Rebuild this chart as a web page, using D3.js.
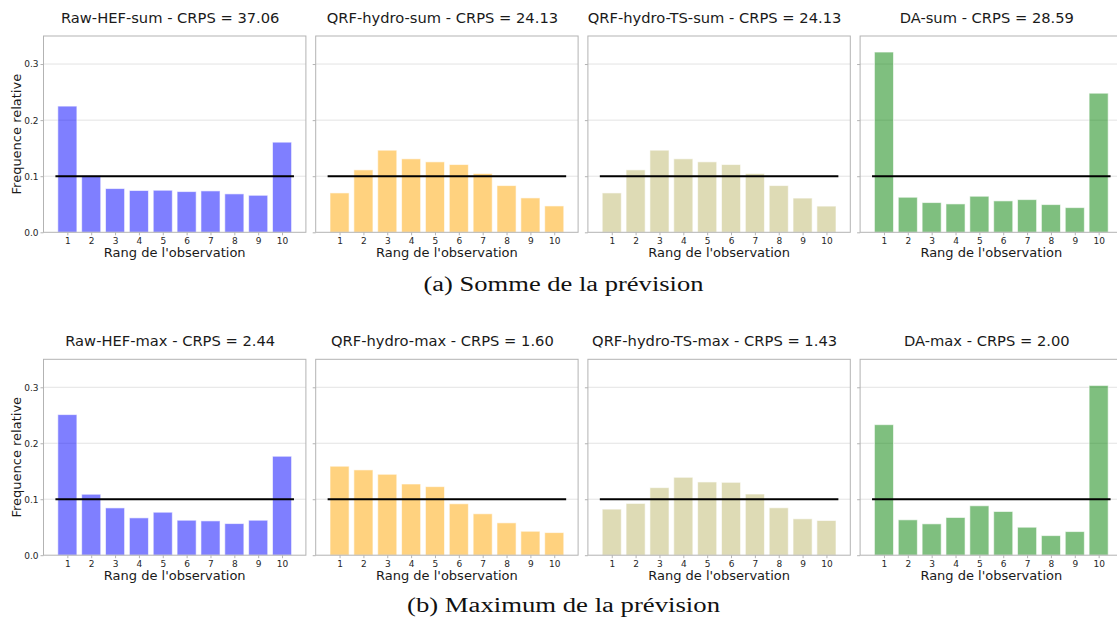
<!DOCTYPE html>
<html>
<head>
<meta charset="utf-8">
<script src="https://cdn.jsdelivr.net/npm/d3@7"></script>
<style>
  html, body { margin: 0; padding: 0; background: #fff; }
  svg { display: block; }
</style>
</head>
<body>
<svg id="chart" width="1117" height="621"></svg>
<script>
// ---------------- DATA ----------------
const ranks = [1, 2, 3, 4, 5, 6, 7, 8, 9, 10];
const yTickValues = [0.0, 0.1, 0.2, 0.3];
const uniformLevel = 0.1;

const titlesSum = [
  "Raw-HEF-sum - CRPS = 37.06",
  "QRF-hydro-sum - CRPS = 24.13",
  "QRF-hydro-TS-sum - CRPS = 24.13",
  "DA-sum - CRPS = 28.59"
];
const titlesMax = [
  "Raw-HEF-max - CRPS = 2.44",
  "QRF-hydro-max - CRPS = 1.60",
  "QRF-hydro-TS-max - CRPS = 1.43",
  "DA-max - CRPS = 2.00"
];

const rawHefSum     = [0.225, 0.101, 0.078, 0.0745, 0.075, 0.0726, 0.0738, 0.0685, 0.066, 0.1607];
const qrfHydroSum   = [0.0702, 0.1113, 0.1464, 0.131, 0.1256, 0.1208, 0.1048, 0.0833, 0.0613, 0.047];
const qrfHydroTsSum = [0.0702, 0.1113, 0.1464, 0.131, 0.1256, 0.1208, 0.1048, 0.0833, 0.0610, 0.0467];
const daSum         = [0.3214, 0.0625, 0.053, 0.0506, 0.0643, 0.056, 0.0583, 0.0494, 0.044, 0.248];

const rawHefMax     = [0.2512, 0.1089, 0.0845, 0.0667, 0.0768, 0.0625, 0.0613, 0.0565, 0.0625, 0.1768];
const qrfHydroMax   = [0.159, 0.1524, 0.1446, 0.1272, 0.1225, 0.0919, 0.074, 0.0578, 0.0428, 0.0404];
const qrfHydroTsMax = [0.0823, 0.0925, 0.1207, 0.1392, 0.1308, 0.1302, 0.1093, 0.0847, 0.065, 0.062];
const daMax         = [0.2332, 0.0632, 0.056, 0.0674, 0.0883, 0.0781, 0.05, 0.035, 0.0422, 0.3033];

const seriesSum = [rawHefSum, qrfHydroSum, qrfHydroTsSum, daSum];
const seriesMax = [rawHefMax, qrfHydroMax, qrfHydroTsMax, daMax];
const barColors = ["#0000ff", "#ffa500", "#bdb76b", "#008000"];

const xLabel = "Rang de l'observation";
const yLabel = "Frequence relative";
const captions = ["(a) Somme de la prévision", "(b) Maximum de la prévision"];

// ---------------- LAYOUT ----------------
const svg = d3.select("#chart");
const panelLeft0 = 43.5, panelStep = 272.2, panelW = 262.4;
const rows = [
  { top: 36, bottom: 232.3, titleY: 22.5, caption: captions[0], capY: 291, capW: 280, titles: titlesSum, series: seriesSum },
  { top: 359.3, bottom: 555.2, titleY: 345.5, caption: captions[1], capY: 611.5, capW: 313, titles: titlesMax, series: seriesMax }
];

const font = "'DejaVu Sans', sans-serif";

rows.forEach((row) => {
  row.series.forEach((vals, i) => {
    const left = panelLeft0 + i * panelStep;
    const g = svg.append("g").attr("transform", `translate(${left},${row.top})`);
    const h = row.bottom - row.top;
    const x = d3.scaleLinear().domain([0, 11]).range([0, panelW]);
    const y = d3.scaleLinear().domain([0, 0.35]).range([h, 0]);

    // grid
    g.append("g").selectAll("line").data(yTickValues.slice(1)).join("line")
      .attr("x1", 0).attr("x2", panelW)
      .attr("y1", d => y(d)).attr("y2", d => y(d))
      .attr("stroke", "#e3e3e3").attr("stroke-width", 1);

    // bars
    g.append("g").selectAll("rect").data(ranks).join("rect")
      .attr("x", d => x(d - 0.4))
      .attr("width", x(0.8) - x(0))
      .attr("y", (d, k) => y(vals[k]))
      .attr("height", (d, k) => y(0) - y(vals[k]))
      .attr("fill", barColors[i]).attr("fill-opacity", 0.5)
      .attr("stroke", "#ffffff").attr("stroke-opacity", 0.6).attr("stroke-width", 1);

    // uniform line
    g.append("line")
      .attr("x1", x(0.5)).attr("x2", x(10.5))
      .attr("y1", y(uniformLevel)).attr("y2", y(uniformLevel))
      .attr("stroke", "#000").attr("stroke-width", 2);

    // frame
    g.append("rect").attr("x", 0).attr("y", 0).attr("width", panelW).attr("height", h)
      .attr("fill", "none").attr("stroke", "#b3b3b3").attr("stroke-width", 1);

    // y axis
    const yAxis = d3.axisLeft(y).tickValues(yTickValues).tickSize(3).tickPadding(2)
      .tickFormat(i === 0 ? d3.format(".1f") : () => "");
    const ya = g.append("g").call(yAxis);
    ya.select(".domain").remove();
    ya.selectAll(".tick line").attr("stroke", "#b3b3b3");
    ya.selectAll(".tick text").attr("font-family", font).attr("font-size", 9).attr("fill", "#262626");

    // x axis
    const xAxis = d3.axisBottom(x).tickValues(ranks).tickSize(3).tickPadding(2).tickFormat(d3.format("d"));
    const xa = g.append("g").attr("transform", `translate(0,${h})`).call(xAxis);
    xa.select(".domain").remove();
    xa.selectAll(".tick line").attr("stroke", "#b3b3b3");
    xa.selectAll(".tick text").attr("font-family", font).attr("font-size", 9).attr("fill", "#262626");

    // x label
    g.append("text").attr("x", panelW / 2).attr("y", h + 25)
      .attr("text-anchor", "middle").attr("font-family", font).attr("font-size", 13)
      .attr("fill", "#1a1a1a").text(xLabel);

    // y label (first panel only)
    if (i === 0) {
      g.append("text")
        .attr("transform", `translate(${-23},${h / 2}) rotate(-90)`)
        .attr("text-anchor", "middle").attr("font-family", font).attr("font-size", 13)
        .attr("fill", "#1a1a1a").text(yLabel);
    }

    // title
    svg.append("text")
      .attr("x", left + panelW / 2 - 4.5).attr("y", row.titleY)
      .attr("text-anchor", "middle").attr("font-family", font).attr("font-size", 14.7)
      .attr("fill", "#1a1a1a").text(row.titles[i]);
  });

  // caption
  svg.append("text")
    .attr("x", 563.5 - row.capW / 2).attr("y", row.capY)
    .attr("font-family", "'Liberation Serif', 'DejaVu Serif', serif").attr("font-size", 20.5)
    .attr("textLength", row.capW).attr("lengthAdjust", "spacingAndGlyphs")
    .attr("fill", "#111").text(row.caption);
});
</script>
</body>
</html>
